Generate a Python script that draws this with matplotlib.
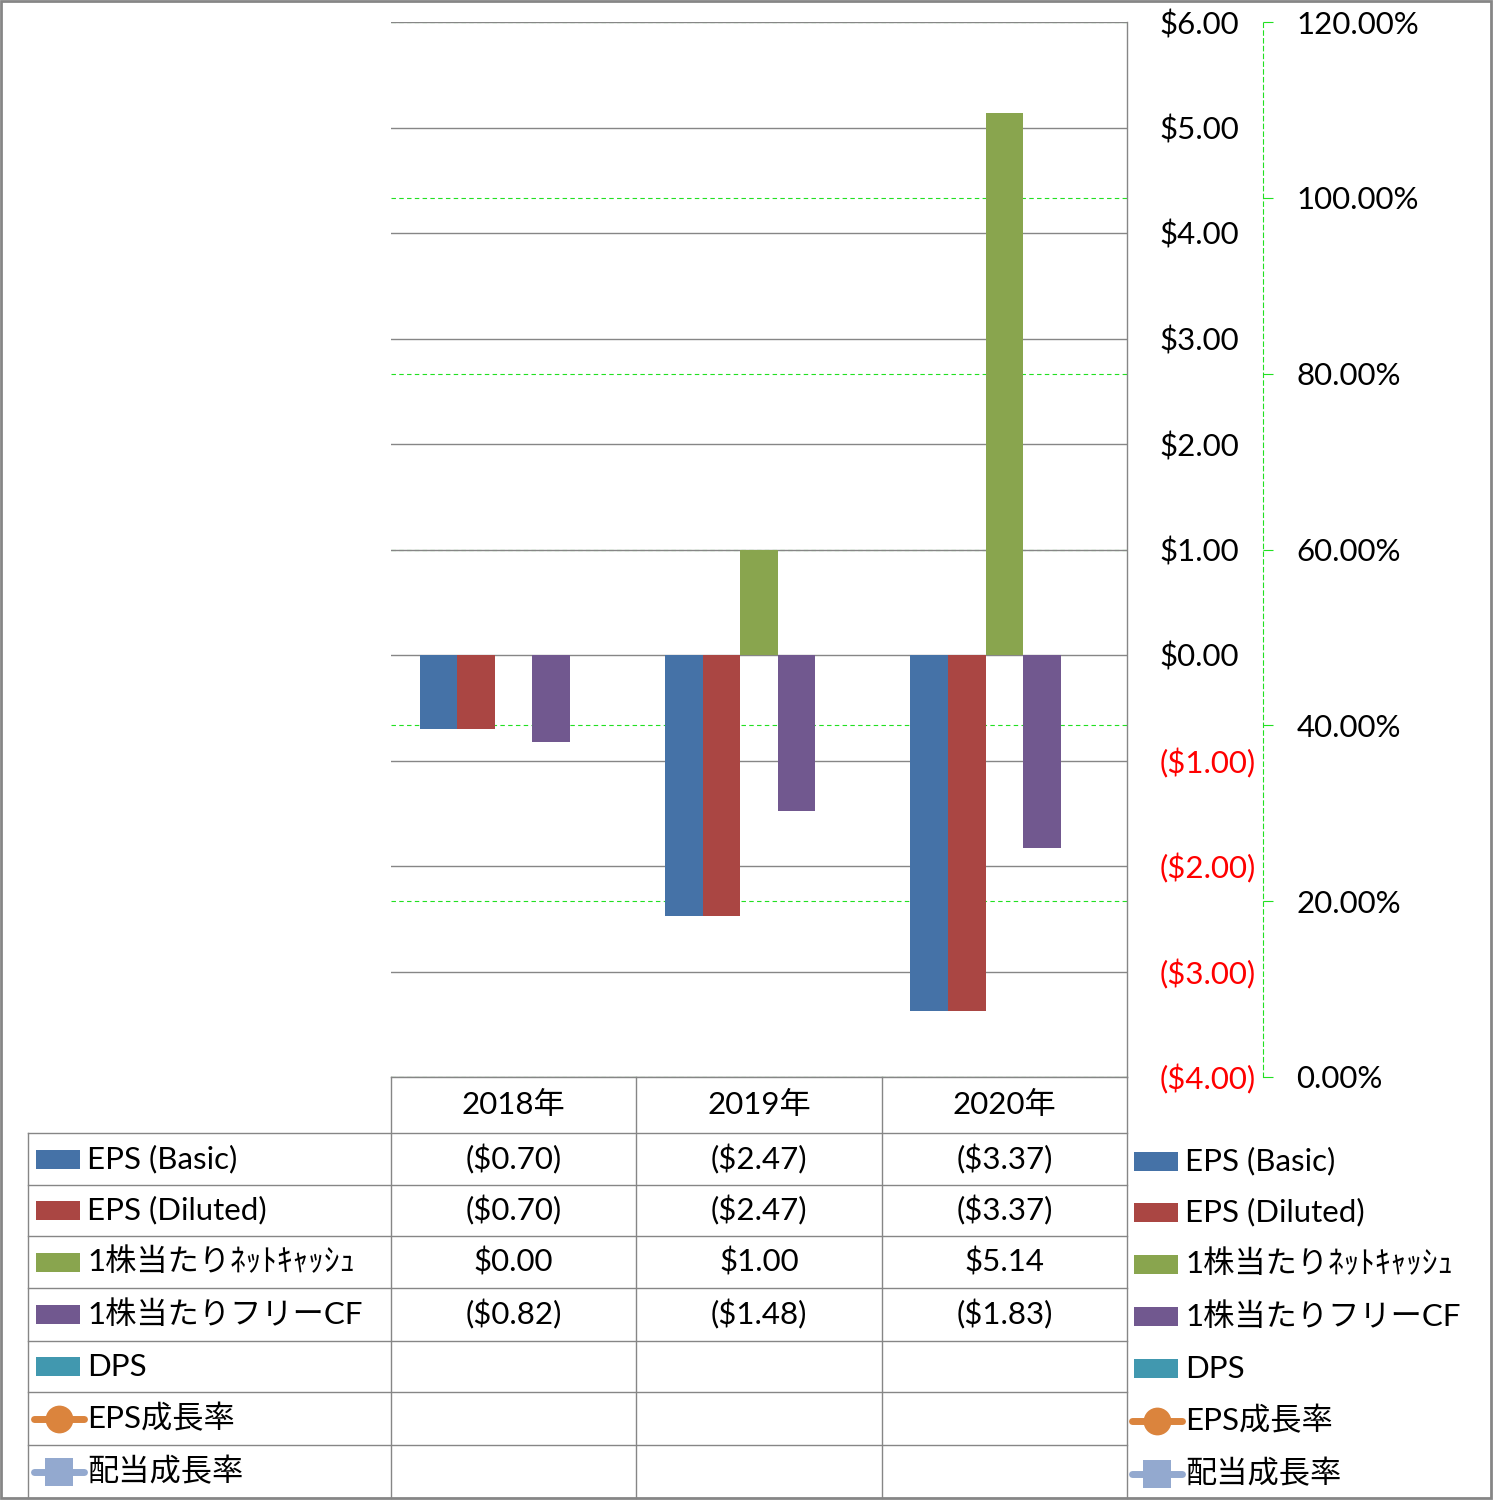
import numpy as np
import matplotlib
matplotlib.use("Agg")
import matplotlib.pyplot as plt
from matplotlib.patches import Rectangle
from matplotlib.lines import Line2D

plt.rcParams['font.family'] = ['Lato', 'Noto Sans CJK JP', 'DejaVu Sans']

# data
years = ["2018年", "2019年", "2020年"]
eps_basic = [-0.70, -2.47, -3.37]
eps_diluted = [-0.70, -2.47, -3.37]
net_cash = [0.00, 1.00, 5.14]
free_cf = [-0.82, -1.48, -1.83]
dps = [None, None, None]
eps_growth = [None, None, None]
div_growth = [None, None, None]

bar_names = ["EPS (Basic)", "EPS (Diluted)", "1株当たりﾈｯﾄｷｬｯｼｭ", "1株当たりフリーCF", "DPS"]
bar_values = [eps_basic, eps_diluted, net_cash, free_cf, dps]
bar_colors = ["#4572A7", "#AA4643", "#89A54E", "#71588F", "#4198AF"]
line_names = ["EPS成長率", "配当成長率"]
line_values = [eps_growth, div_growth]
line_colors = ["#DB843D", "#93A9CF"]
line_markers = ["o", "s"]

W, H = 1493, 1500
FS = 22.5
GRAY = "#868686"
GREEN = "#22E022"

fig = plt.figure(figsize=(W / 100, H / 100), dpi=100)


def fx(px):
    return px / W


def fy(py):
    return 1 - py / H


ax = fig.add_axes([fx(391), fy(1077), fx(1127) - fx(391), fy(22) - fy(1077)])
ax2 = ax.twinx()
ax.set_zorder(2)
ax2.set_zorder(1)
ax.patch.set_visible(False)

# bars
n = len(bar_values)
w = 37.5 / 245
xs = np.arange(len(years))
for k, (vals, c) in enumerate(zip(bar_values, bar_colors)):
    v = np.array([np.nan if a is None else a for a in vals], dtype=float)
    if np.all(np.isnan(v)):
        continue
    ax.bar(xs + (k - (n - 1) / 2) * w, v, w, color=c, zorder=3)

ax.set_xlim(-0.5, len(years) - 0.5)
ax.set_ylim(-4, 6)
ax.set_xticks([])
ax.set_yticks(range(-4, 7))
ax.yaxis.tick_right()
ax.set_yticklabels([f"${t:.2f}" if t >= 0 else f"(${-t:.2f})" for t in range(-4, 7)])
for t, lab in zip(range(-4, 7), ax.get_yticklabels()):
    lab.set_color("#FF0000" if t < 0 else "black")
ax.tick_params(axis='y', length=0, pad=23.5, labelsize=FS)
ax.grid(axis='y', color=GRAY, lw=1.0, zorder=1)
for s in ["left", "top", "bottom"]:
    ax.spines[s].set_visible(False)
ax.spines["right"].set_color(GRAY)
ax.spines["right"].set_linewidth(1.0)

# secondary axis
for vals, c, m in zip(line_values, line_colors, line_markers):
    v = np.array([np.nan if a is None else a for a in vals], dtype=float)
    ax2.plot(xs, v, color=c, marker=m)
ax2.set_ylim(0, 1.2)
pct_ticks = np.arange(0, 1.21, 0.2)
ax2.set_yticks(pct_ticks)
ax2.set_yticklabels([f"{t * 100:.2f}%" for t in pct_ticks])
ax2.tick_params(axis='y', length=7, width=0.8, color=GREEN, direction='out', pad=17, labelsize=FS)
ax2.grid(axis='y', color=GREEN, lw=0.8, ls=(0, (4, 3)))
for s in ["left", "top", "bottom"]:
    ax2.spines[s].set_visible(False)
ax2.spines["right"].set_position(("outward", 136 * 0.72))
ax2.spines["right"].set_color(GREEN)
ax2.spines["right"].set_linewidth(0.8)
ax2.spines["right"].set_linestyle((0, (4, 3)))

# data table in pixel coordinates
tb = fig.add_axes([0, 0, 1, 1], zorder=0)
tb.set_xlim(0, W)
tb.set_ylim(H, 0)
tb.axis("off")

col_edges = [ax.transData.transform((x, 0))[0] for x in np.arange(len(years) + 1) - 0.5]
col_mid = [(a + b) / 2 for a, b in zip(col_edges[:-1], col_edges[1:])]
row_edges = [1077, 1133, 1185, 1236, 1288, 1341, 1392, 1445, 1498]
row_mid = [(a + b) / 2 for a, b in zip(row_edges[:-1], row_edges[1:])]
lab_left = 28

for x in col_edges:
    tb.add_line(Line2D([x, x], [row_edges[0], row_edges[-1]], color=GRAY, lw=1.0))
tb.add_line(Line2D([lab_left, lab_left], [row_edges[1], row_edges[-1]], color=GRAY, lw=1.0))
tb.add_line(Line2D([col_edges[0], col_edges[-1]], [row_edges[0]] * 2, color=GRAY, lw=1.0))
for y in row_edges[1:-1]:
    tb.add_line(Line2D([lab_left, col_edges[-1]], [y, y], color=GRAY, lw=1.0))

for x, yr in zip(col_mid, years):
    tb.text(x, row_mid[0], yr, ha="center", va="center", fontsize=FS)


def fmt(v):
    if v is None:
        return ""
    return f"${v:.2f}" if v >= 0 else f"(${-v:.2f})"


all_names = bar_names + line_names
all_values = bar_values + line_values
for r, vals in enumerate(all_values):
    for x, v in zip(col_mid, vals):
        tb.text(x, row_mid[r + 1], fmt(v), ha="center", va="center", fontsize=FS)


def legend_key(x0, yc, r):
    if r < len(bar_names):
        tb.add_patch(Rectangle((x0 + 8, yc - 9.5), 44, 19, color=bar_colors[r], lw=0))
    else:
        j = r - len(bar_names)
        tb.add_line(Line2D([x0 + 6, x0 + 56], [yc, yc], color=line_colors[j], lw=5,
                           solid_capstyle="round"))
        tb.add_line(Line2D([x0 + 31], [yc], color=line_colors[j], marker=line_markers[j],
                           markersize=20, markeredgewidth=0))
    tb.text(x0 + 59, yc, all_names[r], ha="left", va="center", fontsize=FS)


for r in range(len(all_names)):
    legend_key(lab_left, row_mid[r + 1], r)
    legend_key(1126, row_mid[r + 1] + 2, r)

# outer frame
tb.add_patch(Rectangle((1, 1), W - 3, H - 3, fill=False, edgecolor=GRAY, lw=2))

fig.savefig("out.png", dpi=100)
